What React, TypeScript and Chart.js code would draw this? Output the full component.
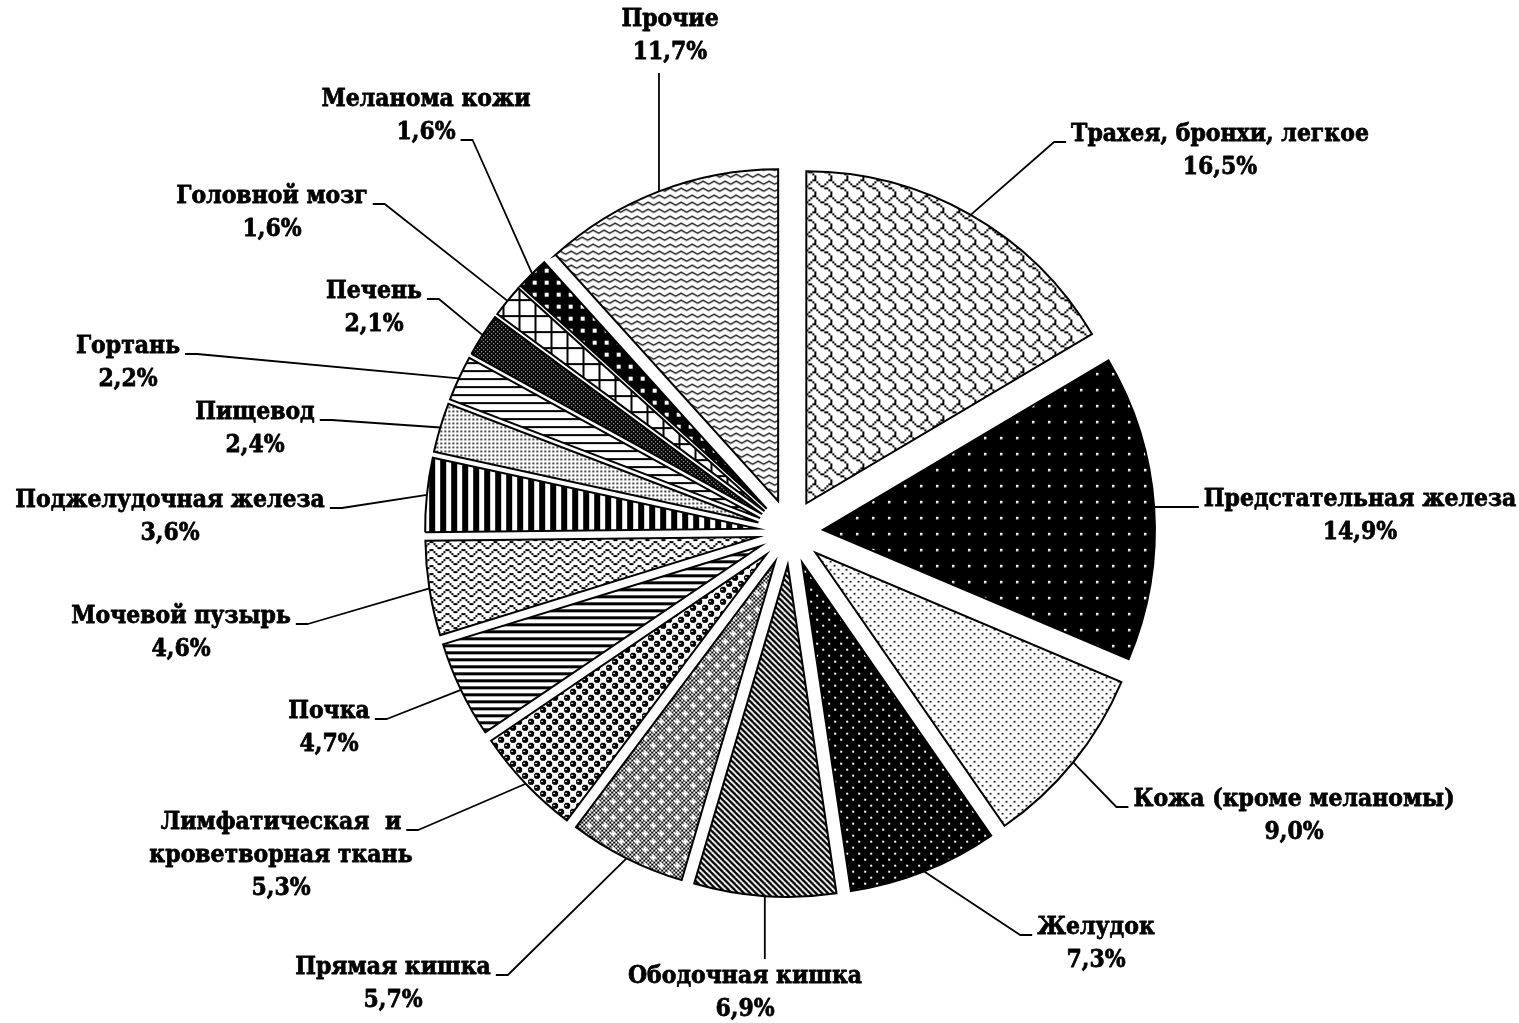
import React, { useEffect, useRef } from 'react';
import { Chart, registerables } from 'chart.js';

Chart.register(...registerables);

// ---------- data ----------
const CATEGORIES: string[] = [
  'Трахея, бронхи, легкое',
  'Предстательная железа',
  'Кожа (кроме меланомы)',
  'Желудок',
  'Ободочная кишка',
  'Прямая кишка',
  'Лимфатическая  и\nкроветворная ткань',
  'Почка',
  'Мочевой пузырь',
  'Поджелудочная железа',
  'Пищевод',
  'Гортань',
  'Печень',
  'Головной мозг',
  'Меланома кожи',
  'Прочие',
];

const SHARES: number[] = [16.5, 14.9, 9.0, 7.3, 6.9, 5.7, 5.3, 4.7, 4.6, 3.6, 2.4, 2.2, 2.1, 1.6, 1.6, 11.7];

// ---------- layout / style ----------
type Side = 'L' | 'R' | 'T' | 'B';
interface LabelLayout { x: number; y: number; side: Side; line?: number; level?: boolean }
// x,y: centre of the first text line of each label
const LABEL_LAYOUT: LabelLayout[] = [
  { x: 1220, y: 135, side: 'L', line: 0 },
  { x: 1360, y: 500, side: 'L', line: 0, level: true },
  { x: 1294, y: 800, side: 'L', line: 0 },
  { x: 1096, y: 928, side: 'L', line: 0 },
  { x: 745, y: 977, side: 'T' },
  { x: 393, y: 968, side: 'R', line: 0 },
  { x: 281, y: 823, side: 'R', line: 0 },
  { x: 329, y: 712, side: 'R', line: 0 },
  { x: 181, y: 617, side: 'R', line: 0 },
  { x: 170, y: 501, side: 'R', line: 0 },
  { x: 255, y: 413, side: 'R', line: 0 },
  { x: 128, y: 347, side: 'R', line: 0 },
  { x: 374, y: 292, side: 'R', line: 0 },
  { x: 272, y: 197, side: 'R', line: 0 },
  { x: 426, y: 100, side: 'R', line: 1 },
  { x: 670, y: 20, side: 'B' },
];

const W = 1519;
const H = 1023;
const EXPLODE = 33;
const RADIUS = 332;
const FONT = 'bold 22px "DejaVu Serif"';
const TEXT_STRETCH_Y = 1.12;
const LINE_H = 33;

const pct = (v: number) => v.toFixed(1).replace('.', ',') + '%';

// ---------- patterns ----------
function tile(w: number, h: number, paint: (g: CanvasRenderingContext2D) => void): CanvasPattern {
  const c = document.createElement('canvas');
  c.width = w;
  c.height = h;
  const g = c.getContext('2d')!;
  paint(g);
  return g.createPattern(c, 'repeat')!;
}

function bitmap(rows: string[], s: number, fg = '#000', bg = '#fff'): CanvasPattern {
  const w = rows[0].length * s;
  const h = rows.length * s;
  return tile(w, h, (g) => {
    g.fillStyle = bg;
    g.fillRect(0, 0, w, h);
    g.fillStyle = fg;
    rows.forEach((r, y) =>
      r.split('').forEach((ch, x) => {
        if (ch === '1') g.fillRect(x * s, y * s, s, s);
      })
    );
  });
}

const SHINGLE = ['00000011', '10000100', '01001000', '00110000', '00001100', '00000010', '00000001', '00000001'];
const ZIGZAG = ['10000001', '01000010', '00100100', '00011000', '10000001', '01000010', '00100100', '00011000'];
const SPHERE = [
  '011110000000',
  '111111000000',
  '100111000000',
  '111111000000',
  '111111000000',
  '011110000000',
  '000000011110',
  '000000111111',
  '000000100111',
  '000000111111',
  '000000111111',
  '000000011110',
];

function makePatterns(): CanvasPattern[] {
  return [
    // Трахея
    bitmap(SHINGLE, 2),
    // Предстательная
    tile(16, 16, (g) => {
      g.fillStyle = '#000';
      g.fillRect(0, 0, 16, 16);
      g.fillStyle = '#fff';
      g.fillRect(7, 7, 2.5, 2.5);
    }),
    // Кожа
    tile(8, 8, (g) => {
      g.fillStyle = '#fff';
      g.fillRect(0, 0, 8, 8);
      g.fillStyle = '#000';
      g.fillRect(0, 0, 1.7, 1.7);
      g.fillRect(4, 4, 1.7, 1.7);
    }),
    // Желудок
    tile(12, 12, (g) => {
      g.fillStyle = '#000';
      g.fillRect(0, 0, 12, 12);
      g.fillStyle = '#fff';
      g.fillRect(0, 0, 2, 2);
      g.fillRect(6, 6, 2, 2);
    }),
    // Ободочная
    tile(6, 6, (g) => {
      g.fillStyle = '#fff';
      g.fillRect(0, 0, 6, 6);
      g.strokeStyle = '#000';
      g.lineWidth = 2.3;
      for (const dx of [-6, 0, 6]) {
        g.beginPath();
        g.moveTo(dx - 1, -1);
        g.lineTo(dx + 7, 7);
        g.stroke();
      }
    }),
    // Прямая кишка
    tile(16, 16, (g) => {
      g.fillStyle = '#fff';
      g.fillRect(0, 0, 16, 16);
      g.fillStyle = '#000';
      for (let y = 0; y < 16; y += 2)
        for (let x = 0; x < 16; x += 2) if (((x + y) / 2) % 2 === 0) g.fillRect(x, y, 2, 2);
      g.fillStyle = '#fff';
      for (const [cx, cy] of [[4, 4], [12, 12]]) {
        g.fillRect(cx - 3, cy - 1, 6, 2);
        g.fillRect(cx - 1, cy - 3, 2, 6);
      }
    }),
    // Лимфатическая
    bitmap(SPHERE, 1),
    // Почка
    tile(8, 7, (g) => {
      g.fillStyle = '#fff';
      g.fillRect(0, 0, 8, 7);
      g.fillStyle = '#000';
      g.fillRect(0, 0, 8, 3);
    }),
    // Мочевой пузырь
    bitmap(ZIGZAG, 2),
    // Поджелудочная
    tile(11, 8, (g) => {
      g.fillStyle = '#fff';
      g.fillRect(0, 0, 11, 8);
      g.fillStyle = '#000';
      g.fillRect(0, 0, 6, 8);
    }),
    // Пищевод
    tile(4, 4, (g) => {
      g.fillStyle = '#fff';
      g.fillRect(0, 0, 4, 4);
      g.fillStyle = '#000';
      g.fillRect(0, 0, 1.7, 1.7);
    }),
    // Гортань
    tile(8, 8, (g) => {
      g.fillStyle = '#fff';
      g.fillRect(0, 0, 8, 8);
      g.fillStyle = '#000';
      g.fillRect(0, 0, 8, 2);
    }),
    // Печень
    tile(4, 4, (g) => {
      g.fillStyle = '#000';
      g.fillRect(0, 0, 4, 4);
      g.fillStyle = '#fff';
      g.fillRect(1, 1, 1, 1);
      g.fillRect(3, 3, 1, 1);
    }),
    // Головной мозг
    tile(16, 16, (g) => {
      g.fillStyle = '#fff';
      g.fillRect(0, 0, 16, 16);
      g.fillStyle = '#000';
      g.fillRect(0, 0, 16, 2);
      g.fillRect(0, 0, 2, 16);
    }),
    // Меланома
    tile(12, 12, (g) => {
      g.fillStyle = '#000';
      g.fillRect(0, 0, 12, 12);
      g.fillStyle = '#fff';
      g.fillRect(4, 4, 4, 4);
    }),
    // Прочие
    tile(11, 7, (g) => {
      g.fillStyle = '#fff';
      g.fillRect(0, 0, 11, 7);
      g.strokeStyle = '#000';
      g.lineWidth = 1.3;
      g.beginPath();
      g.moveTo(-5.5, 5);
      g.lineTo(0, 2);
      g.lineTo(5.5, 5);
      g.lineTo(11, 2);
      g.lineTo(16.5, 5);
      g.stroke();
    }),
  ];
}

// ---------- plugins ----------
const explodePlugin = {
  id: 'explodeSlices',
  beforeDatasetDraw(chart: any, args: any) {
    const ctx: CanvasRenderingContext2D = chart.ctx;
    args.meta.data.forEach((arc: any) => {
      const mid = (arc.startAngle + arc.endAngle) / 2;
      ctx.save();
      ctx.translate(Math.cos(mid) * EXPLODE, Math.sin(mid) * EXPLODE);
      arc.draw(ctx);
      ctx.restore();
    });
    return false;
  },
};

function drawText(ctx: CanvasRenderingContext2D, t: string, x: number, y: number) {
  ctx.save();
  ctx.translate(x, y);
  ctx.scale(1, TEXT_STRETCH_Y);
  ctx.lineWidth = 0.7;
  ctx.fillText(t, 0, 0);
  ctx.strokeText(t, 0, 0);
  ctx.restore();
}

const labelPlugin = {
  id: 'sliceLabels',
  afterDraw(chart: any) {
    const ctx: CanvasRenderingContext2D = chart.ctx;
    const arcs = chart.getDatasetMeta(0).data;
    ctx.save();
    ctx.font = FONT;
    ctx.fillStyle = '#000';
    ctx.strokeStyle = '#000';
    ctx.textAlign = 'center';
    ctx.textBaseline = 'middle';
    ctx.lineJoin = 'round';
    arcs.forEach((arc: any, i: number) => {
      const lay = LABEL_LAYOUT[i];
      const lines = [...CATEGORIES[i].split('\n'), pct(SHARES[i])];
      lines.forEach((t, k) => drawText(ctx, t, lay.x, lay.y + k * LINE_H));

      const mid = (arc.startAngle + arc.endAngle) / 2;
      const ox = arc.x + Math.cos(mid) * EXPLODE;
      const oy = arc.y + Math.sin(mid) * EXPLODE;
      let px = ox + Math.cos(mid) * arc.outerRadius;
      let py = oy + Math.sin(mid) * arc.outerRadius;

      ctx.lineWidth = 1.8;
      ctx.beginPath();
      if (lay.side === 'T' || lay.side === 'B') {
        const yEnd = lay.side === 'T' ? lay.y - 18 : lay.y + (lines.length - 1) * LINE_H + 20;
        ctx.moveTo(px, py);
        ctx.lineTo(px, yEnd);
      } else {
        const li = lay.line ?? 0;
        const w = ctx.measureText(lines[li].trimEnd()).width;
        const ys = lay.y + li * LINE_H + 7;
        const dir = lay.side === 'R' ? 1 : -1;
        const edge = lay.x + (dir * w) / 2;
        const s0 = edge + dir * 5;
        const s1 = edge + dir * 17;
        if (lay.level) {
          const dy = ys - oy;
          px = ox + Math.sqrt(Math.max(0, arc.outerRadius * arc.outerRadius - dy * dy)) * (dir === -1 ? 1 : -1);
          py = ys;
          ctx.moveTo(s0, ys);
          ctx.lineTo(px, py);
        } else {
          ctx.moveTo(s0, ys);
          ctx.lineTo(s1, ys);
          ctx.lineTo(px, py);
        }
      }
      ctx.stroke();
    });
    ctx.restore();
  },
};

// ---------- component ----------
export default function App() {
  const ref = useRef<HTMLCanvasElement | null>(null);

  useEffect(() => {
    if (!ref.current) return;
    const cx = 790;
    const cy = 532;
    const half = 340;
    const chart = new Chart(ref.current, {
      type: 'pie',
      data: {
        labels: CATEGORIES,
        datasets: [
          {
            data: SHARES,
            backgroundColor: makePatterns() as any,
            borderColor: '#000',
            borderWidth: 2,
            hoverBorderWidth: 2,
            offset: 0,
            hoverOffset: 0,
            borderJoinStyle: 'miter',
          } as any,
        ],
      },
      options: {
        animation: false,
        responsive: false,
        devicePixelRatio: 1,
        radius: RADIUS,
        events: [],
        layout: {
          padding: { left: cx - half, right: W - cx - half, top: cy - half, bottom: H - cy - half },
        },
        plugins: { legend: { display: false }, tooltip: { enabled: false } },
      } as any,
      plugins: [explodePlugin, labelPlugin],
    });
    return () => chart.destroy();
  }, []);

  return (
    <div style={{ position: 'absolute', left: 0, top: 0, width: W, height: H, background: '#fff' }}>
      <canvas ref={ref} width={W} height={H} style={{ display: 'block', width: W, height: H }} />
    </div>
  );
}
